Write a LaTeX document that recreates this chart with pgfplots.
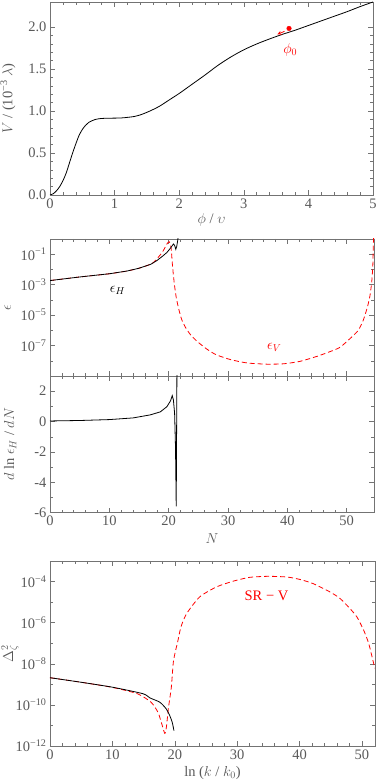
\documentclass[border=0pt]{standalone}
\usepackage{fontspec}
\setmainfont{Liberation Serif}
\usepackage{pgfplots}
\pgfplotsset{compat=1.18}
\definecolor{framegray}{gray}{0.45}
\definecolor{labgray}{gray}{0.35}
\newcommand{\fs}{\fontsize{14.5}{17}\selectfont}
\pgfplotsset{
  mstyle/.style={
    scale only axis,
    axis line style={framegray, line width=0.6pt},
    every tick/.style={framegray, line width=0.5pt},
    major tick length=5pt, minor tick length=3pt,
    tick align=inside,
    ticklabel style={font=\fs, text=labgray},
    label style={font=\fs, text=labgray},
    /pgf/number format/assume math mode=true,
  },
  blk/.style={black, line width=0.8pt},
  rdd/.style={red, line width=0.8pt, dash pattern=on 5pt off 3pt},
}
\begin{document}
\begin{tikzpicture}
\path[use as bounding box] (0,0) rectangle (382pt,781pt);

% ---------- Panel 1 ----------
\begin{axis}[mstyle, at={(50pt,586pt)}, anchor=south west,
  width=323pt, height=193pt,
  xmin=0, xmax=5, ymin=0, ymax=2.3,
  xtick={0,1,2,3,4,5}, minor x tick num=4,
  ytick={0,0.5,1.0,1.5,2.0}, minor y tick num=4,
  yticklabel style={/pgf/number format/.cd, fixed, fixed zerofill, precision=1},
  xlabel={$\phi$ / $\upsilon$},
  ylabel={$V$ / (10\textsuperscript{−3} $\lambda$)},
  xlabel style={at={(axis description cs:0.5,-0.13)}, anchor=center},
  ylabel style={at={(axis description cs:-0.13,0.5)}, anchor=center, rotate=0},
]
\addplot[blk, smooth] coordinates {
(0,0) (0.05,0.015) (0.1,0.05) (0.15,0.1) (0.2,0.17) (0.25,0.26) (0.3,0.38)
(0.35,0.5) (0.4,0.61) (0.45,0.71) (0.5,0.78) (0.55,0.83) (0.6,0.865)
(0.7,0.9) (0.8,0.912) (0.9,0.915) (1.0,0.916) (1.1,0.918) (1.2,0.925)
(1.3,0.935) (1.4,0.955) (1.5,0.985) (1.6,1.02) (1.7,1.06) (1.8,1.11)
(1.9,1.16) (2.0,1.21) (2.2,1.32) (2.4,1.43) (2.6,1.545) (2.8,1.645)
(3.0,1.73) (3.2,1.80) (3.4,1.86) (3.6,1.915) (3.8,1.965) (4.0,2.02)
(4.2,2.075) (4.4,2.13) (4.6,2.185) (4.8,2.245) (5.0,2.30)};
\addplot[red, only marks, mark=*, mark size=2.3pt] coordinates {(3.7,1.985)};
\draw[red, line width=0.8pt, -stealth] (axis cs:3.63,1.95) -- (axis cs:3.52,1.915);
\node[red, font=\fs] at (axis cs:3.72,1.73) {$\phi_0$};
\end{axis}

% ---------- Panel 2 ----------
\begin{axis}[mstyle, at={(50pt,405pt)}, anchor=south west,
  width=324pt, height=137pt,
  xmin=0, xmax=54.6, ymode=log, ymin=1e-9, ymax=1,
  xtick={0,10,20,30,40,50}, minor x tick num=4, xticklabels={},
  ytick={1e-1,1e-3,1e-5,1e-7},
  yticklabels={10\textsuperscript{−1},10\textsuperscript{−3},10\textsuperscript{−5},10\textsuperscript{−7}},
  minor ytick={1e-2,1e-4,1e-6,1e-8},
  ylabel={$\epsilon$},
  ylabel style={at={(axis description cs:-0.13,0.5)}, anchor=center},
]
\addplot[rdd, smooth, tension=0.4] coordinates {
(0,1.86e-3) (5,3.2e-3) (10,5.2e-3) (13,7.9e-3) (15,1.2e-2) (16,1.6e-2)
(17.4,2.8e-2) (18.9,0.13) (19.7,0.47) (20.1,0.66) (20.4,0.28) (20.6,2.8e-2)
(20.8,4.0e-3) (21.0,7.9e-4) (21.3,1.26e-4) (21.7,2.5e-5) (22.2,5.0e-6)
(22.9,1.4e-6) (23.8,4.5e-7) (25.0,1.6e-7) (26.5,5.6e-8) (28.0,2.5e-8)
(30.4,1.2e-8) (33.2,7.2e-9) (36.5,6.0e-9) (39.3,6.3e-9)
(42.1,9.1e-9) (44.9,1.9e-8) (47.2,4.0e-8) (48.9,7.8e-8) (50.8,3.5e-7)
(51.95,1e-6) (52.8,4.7e-6) (53.5,3.5e-5) (53.9,1.7e-4) (54.2,1.3e-3)
(54.4,1.7e-2) (54.5,0.63) (54.55,1.26)};
\addplot[blk] coordinates {
(0,1.86e-3) (5,3.2e-3) (10,5.2e-3) (13,7.9e-3) (15,1.2e-2) (17,2.2e-2)
(18,3.8e-2) (19,7.6e-2) (19.7,0.13) (20.3,0.25) (20.8,0.47) (21.0,0.38)
(21.2,0.21) (21.35,0.32) (21.5,0.7) (21.55,1.0) (21.6,1.3)};
\node[black, font=\fs] at (axis cs:11.4,4.2e-4) {$\epsilon_H$};
\node[red, font=\fs] at (axis cs:37.8,8e-8) {$\epsilon_V$};
\end{axis}

% ---------- Panel 3 ----------
\begin{axis}[mstyle, at={(50pt,268.3pt)}, anchor=south west,
  width=324pt, height=136.7pt,
  xmin=0, xmax=54.6, ymin=-6, ymax=3,
  xtick={0,10,20,30,40,50}, minor x tick num=4,
  ytick={-6,-4,-2,0,2}, minor y tick num=1,
  xlabel={$N$},
  ylabel={$d$ ln $\epsilon_H$ / $dN$},
  xlabel style={at={(axis description cs:0.5,-0.19)}, anchor=center},
  ylabel style={at={(axis description cs:-0.123,0.5)}, anchor=center},
]
\addplot[blk] coordinates {
(0,0.04) (5,0.07) (10,0.13) (14,0.24) (16.9,0.44) (18.6,0.64) (19.7,0.98)
(20.3,1.36) (20.6,1.71) (20.8,1.42) (21.0,0.53) (21.15,-1.7) (21.27,-5.58)
(21.4,4)};
\end{axis}

% ---------- Panel 4 ----------
\begin{axis}[mstyle, at={(50pt,35pt)}, anchor=south west,
  width=325pt, height=185pt,
  xmin=0, xmax=52.1, ymode=log, ymin=1e-12, ymax=1e-3,
  xtick={0,10,20,30,40,50}, minor x tick num=4,
  ytick={1e-12,1e-10,1e-8,1e-6,1e-4},
  yticklabels={10\textsuperscript{−12},10\textsuperscript{−10},10\textsuperscript{−8},10\textsuperscript{−6},10\textsuperscript{−4}},
  minor ytick={1e-11,1e-9,1e-7,1e-5,1e-3},
  xlabel={ln ($k$ / $k_0$)},
  ylabel={$\Delta_\zeta^2$},
  xlabel style={at={(axis description cs:0.5,-0.146)}, anchor=center},
  ylabel style={at={(axis description cs:-0.123,0.5)}, anchor=center},
]
\addplot[rdd, smooth, tension=0.4] coordinates {
(0,2.1e-9) (5,1.26e-9) (10,7.1e-10) (14,3.5e-10) (16.2,1.35e-10)
(17.3,4.4e-11) (17.85,1.4e-11) (18.4,4.1e-12) (18.65,7.9e-12) (19.0,7.6e-11)
(19.45,7.2e-10) (19.8,1.4e-8) (20.5,1.3e-7) (21.0,6.3e-7) (21.9,2.75e-6)
(24.0,1.8e-5) (26.7,5.5e-5) (29.4,1.05e-4) (32,1.6e-4) (35,1.8e-4)
(38,1.66e-4) (40.1,1.26e-4) (42.2,7.9e-5) (44.9,3.1e-5) (46.5,1.5e-5)
(48.1,4.8e-6) (49.2,1.9e-6) (50.3,4.2e-7) (51.1,9.5e-8) (51.9,1e-8) (52.1,6e-9)};
\addplot[blk, smooth, tension=0.4] coordinates {
(0,2.1e-9) (5,1.26e-9) (10.07,7.2e-10) (14.9,3.5e-10) (16,2.2e-10)
(17.6,1.35e-10) (18.65,6.3e-11) (19.2,3e-11) (19.6,1.4e-11) (19.87,5.6e-12)};
\node[red, font=\fs] at (axis cs:34.7,2.1e-5) {SR − V};
\end{axis}
\end{tikzpicture}
\end{document}
